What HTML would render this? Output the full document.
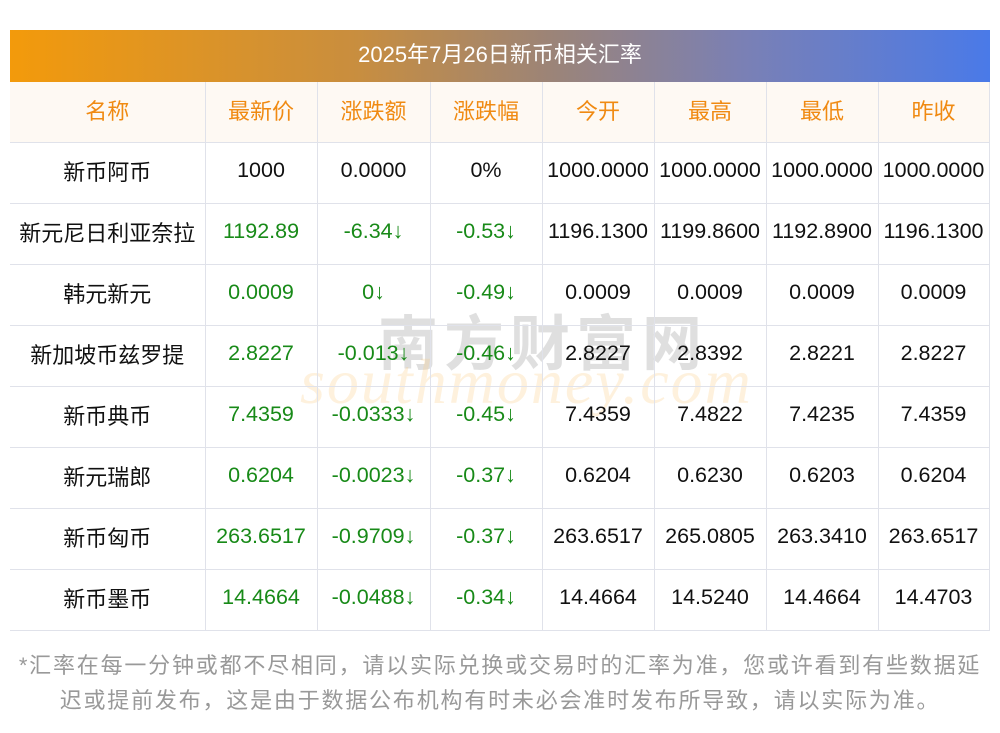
<!DOCTYPE html>
<html><head><meta charset="utf-8">
<style>
body{margin:0;width:1000px;height:733px;background:#fff;position:relative;overflow:hidden;font-family:"Liberation Sans","Noto Sans CJK SC",sans-serif;}
.title{position:absolute;left:10px;top:30px;width:980px;height:52px;background:linear-gradient(90deg,#f39a0b 0%,#c98e3e 35%,#9c8477 55%,#7a80b5 75%,#4a7ae8 100%);color:#fff;font-size:22px;line-height:50px;text-align:center;}
table{position:absolute;left:10px;top:82px;border-collapse:collapse;table-layout:fixed;width:979px;}
td{border:1px solid #e0e2ea;height:61px;text-align:center;font-size:21.5px;color:#111;padding:0 0 4px 0;white-space:nowrap;box-sizing:border-box;}
tr td:first-child{border-left:none;}
tr.h td{background:#fef9f3;color:#f08a12;font-size:22px;border-top:none;height:60px;}
td.n{font-size:22px;}
.g{color:#188a18;}
.wm1{position:absolute;left:378px;top:296px;font-size:60px;color:rgba(150,150,150,0.3);letter-spacing:6px;font-weight:bold;}
.wm2{position:absolute;left:300px;top:345px;font-size:64px;font-style:italic;color:rgba(250,200,120,0.25);font-family:"Liberation Serif",serif;letter-spacing:2px;}
.foot{position:absolute;left:0;top:648px;width:1000px;font-size:22px;line-height:35px;color:#999;text-align:center;white-space:nowrap;letter-spacing:1.8px;}
</style></head><body>
<div class="title">2025年7月26日新币相关汇率</div>
<div class="wm1">南方财富网</div>
<div class="wm2">southmoney.com</div>
<table>
<colgroup><col style="width:195px"><col style="width:112px"><col style="width:113px"><col style="width:112px"><col style="width:112px"><col style="width:112px"><col style="width:112px"><col style="width:111px"></colgroup>
<tr class="h"><td>名称</td><td>最新价</td><td>涨跌额</td><td>涨跌幅</td><td>今开</td><td>最高</td><td>最低</td><td>昨收</td></tr>
<tr><td class="n">新币阿币</td><td>1000</td><td>0.0000</td><td>0%</td><td>1000.0000</td><td>1000.0000</td><td>1000.0000</td><td>1000.0000</td></tr>
<tr><td class="n">新元尼日利亚奈拉</td><td class="g">1192.89</td><td class="g">-6.34↓</td><td class="g">-0.53↓</td><td>1196.1300</td><td>1199.8600</td><td>1192.8900</td><td>1196.1300</td></tr>
<tr><td class="n">韩元新元</td><td class="g">0.0009</td><td class="g">0↓</td><td class="g">-0.49↓</td><td>0.0009</td><td>0.0009</td><td>0.0009</td><td>0.0009</td></tr>
<tr><td class="n">新加坡币兹罗提</td><td class="g">2.8227</td><td class="g">-0.013↓</td><td class="g">-0.46↓</td><td>2.8227</td><td>2.8392</td><td>2.8221</td><td>2.8227</td></tr>
<tr><td class="n">新币典币</td><td class="g">7.4359</td><td class="g">-0.0333↓</td><td class="g">-0.45↓</td><td>7.4359</td><td>7.4822</td><td>7.4235</td><td>7.4359</td></tr>
<tr><td class="n">新元瑞郎</td><td class="g">0.6204</td><td class="g">-0.0023↓</td><td class="g">-0.37↓</td><td>0.6204</td><td>0.6230</td><td>0.6203</td><td>0.6204</td></tr>
<tr><td class="n">新币匈币</td><td class="g">263.6517</td><td class="g">-0.9709↓</td><td class="g">-0.37↓</td><td>263.6517</td><td>265.0805</td><td>263.3410</td><td>263.6517</td></tr>
<tr><td class="n">新币墨币</td><td class="g">14.4664</td><td class="g">-0.0488↓</td><td class="g">-0.34↓</td><td>14.4664</td><td>14.5240</td><td>14.4664</td><td>14.4703</td></tr>
</table>
<div class="foot">*汇率在每一分钟或都不尽相同，请以实际兑换或交易时的汇率为准，您或许看到有些数据延<br>迟或提前发布，这是由于数据公布机构有时未必会准时发布所导致，请以实际为准。</div>
</body></html>
